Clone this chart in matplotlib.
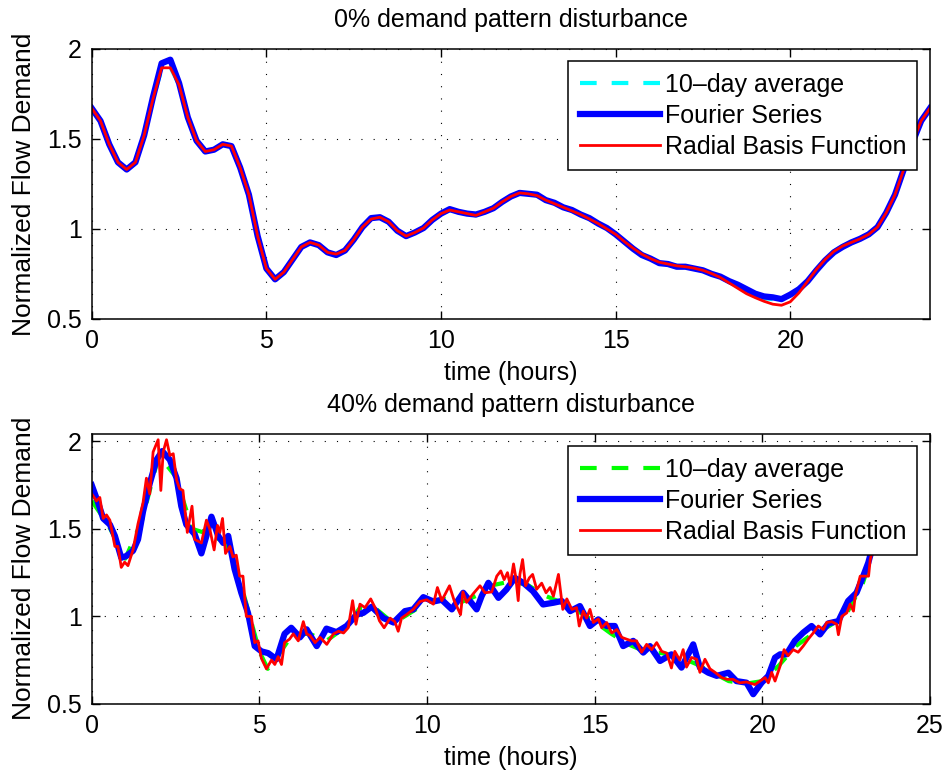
import matplotlib
matplotlib.use("Agg")
import matplotlib.pyplot as plt
import numpy as np

plt.rcParams["font.family"] = ["Liberation Sans", "DejaVu Sans"]
plt.rcParams["font.size"] = 18

# ---------------- 0% disturbance (top) ----------------
hours_0 = np.arange(0, 24.01, 0.25)
avg_0 = [1.67, 1.60, 1.47, 1.37, 1.33, 1.37, 1.52, 1.72, 1.89, 1.90, 1.80, 1.62,
         1.49, 1.43, 1.44, 1.47, 1.46, 1.34, 1.19, 0.96, 0.78, 0.72, 0.76, 0.83,
         0.90, 0.925, 0.91, 0.87, 0.86, 0.88, 0.94, 1.01, 1.055, 1.065, 1.04, 0.99,
         0.96, 0.98, 1.005, 1.05, 1.085, 1.105, 1.095, 1.085, 1.075, 1.095, 1.115, 1.15,
         1.18, 1.20, 1.195, 1.185, 1.16, 1.14, 1.12, 1.10, 1.08, 1.055, 1.03, 1.00,
         0.97, 0.93, 0.893, 0.86, 0.835, 0.815, 0.805, 0.795, 0.79, 0.782, 0.77, 0.752,
         0.73, 0.705, 0.68, 0.655, 0.63, 0.615, 0.61, 0.605, 0.63, 0.67, 0.715, 0.775,
         0.83, 0.875, 0.905, 0.925, 0.945, 0.97, 1.01, 1.09, 1.19, 1.33, 1.48, 1.60, 1.67]
fourier_0 = [1.67, 1.60, 1.47, 1.37, 1.33, 1.37, 1.52, 1.73, 1.92, 1.94, 1.81, 1.62,
             1.49, 1.43, 1.44, 1.47, 1.46, 1.34, 1.19, 0.96, 0.78, 0.72, 0.76, 0.83,
             0.90, 0.925, 0.91, 0.87, 0.855, 0.88, 0.94, 1.01, 1.06, 1.065, 1.04, 0.99,
             0.96, 0.98, 1.005, 1.05, 1.085, 1.11, 1.095, 1.085, 1.08, 1.095, 1.115, 1.15,
             1.18, 1.20, 1.195, 1.19, 1.16, 1.145, 1.12, 1.105, 1.08, 1.06, 1.03, 1.005,
             0.97, 0.93, 0.89, 0.855, 0.835, 0.81, 0.805, 0.79, 0.79, 0.78, 0.77, 0.75,
             0.735, 0.71, 0.69, 0.665, 0.64, 0.625, 0.62, 0.61, 0.635, 0.665, 0.71, 0.77,
             0.825, 0.87, 0.90, 0.925, 0.945, 0.97, 1.01, 1.09, 1.19, 1.33, 1.48, 1.60, 1.67]
rbf_0 = [1.67, 1.60, 1.47, 1.37, 1.33, 1.37, 1.52, 1.72, 1.895, 1.895, 1.80, 1.62,
         1.49, 1.43, 1.44, 1.47, 1.46, 1.34, 1.19, 0.96, 0.78, 0.72, 0.76, 0.83,
         0.90, 0.925, 0.91, 0.87, 0.86, 0.88, 0.94, 1.01, 1.055, 1.065, 1.04, 0.99,
         0.96, 0.98, 1.005, 1.05, 1.085, 1.105, 1.095, 1.085, 1.075, 1.095, 1.115, 1.15,
         1.18, 1.20, 1.195, 1.185, 1.16, 1.14, 1.12, 1.10, 1.08, 1.055, 1.03, 1.00,
         0.97, 0.93, 0.893, 0.86, 0.835, 0.815, 0.805, 0.795, 0.79, 0.782, 0.77, 0.752,
         0.73, 0.70, 0.67, 0.64, 0.618, 0.598, 0.582, 0.576, 0.595, 0.645, 0.71, 0.775,
         0.83, 0.875, 0.905, 0.925, 0.945, 0.97, 1.01, 1.09, 1.19, 1.33, 1.48, 1.60, 1.67]

# ---------------- 40% disturbance (bottom) ----------------
avg_40_t = [0, 0.5, 1.0, 1.5, 2.0, 2.5, 3.0, 3.5, 4.0, 4.5, 5.0, 5.25, 5.5, 6.0,
            6.5, 7.0, 7.5, 7.75, 8.0, 8.5, 9.0, 9.5, 10.0, 10.5, 11.0, 11.5, 12.0,
            12.5, 13.0, 13.5, 14.0, 14.5, 15.0, 15.5, 16.0, 16.5, 17.0, 17.5, 18.0,
            18.5, 19.0, 19.5, 20.0, 20.5, 21.0, 21.5, 22.0, 22.5, 23.0, 23.5, 24.0]
avg_40_v = [1.66, 1.52, 1.33, 1.55, 1.92, 1.80, 1.50, 1.47, 1.42, 1.15, 0.80, 0.70,
            0.76, 0.90, 0.90, 0.86, 0.93, 0.98, 1.05, 1.04, 0.96, 1.02, 1.08, 1.10,
            1.08, 1.12, 1.18, 1.20, 1.18, 1.12, 1.08, 1.03, 0.97, 0.90, 0.84, 0.80,
            0.79, 0.77, 0.73, 0.68, 0.63, 0.615, 0.63, 0.72, 0.83, 0.90, 0.945, 1.01,
            1.19, 1.48, 1.67]

fourier_40_t = [0.00, 0.19, 0.34, 0.54, 0.69, 0.88, 1.03, 1.23, 1.38, 1.53, 1.73, 1.93,
                2.10, 2.33, 2.53, 2.67, 2.82, 3.07, 3.27, 3.42, 3.57, 3.77, 3.92, 4.07,
                4.26, 4.46, 4.66, 4.86, 5.06, 5.26, 5.51, 5.75, 5.95, 6.21, 6.41, 6.71,
                7.00, 7.30, 7.60, 7.90, 8.10, 8.35, 8.70, 9.00, 9.34, 9.59, 9.89, 10.19,
                10.44, 10.74, 11.08, 11.28, 11.48, 11.63, 11.83, 12.13, 12.37, 12.62,
                12.87, 13.16, 13.46, 13.77, 14.02, 14.27, 14.56, 14.86, 15.11, 15.36,
                15.60, 15.85, 16.15, 16.45, 16.65, 16.95, 17.29, 17.59, 17.94, 18.14,
                18.39, 18.64, 18.99, 19.23, 19.53, 19.73, 19.98, 20.18, 20.38, 20.53,
                20.72, 20.97, 21.22, 21.47, 21.72, 21.97, 22.27, 22.56, 22.81, 23.01,
                23.16, 23.31, 23.60, 24.00]
fourier_40_v = [1.75, 1.65, 1.56, 1.525, 1.46, 1.335, 1.345, 1.375, 1.44, 1.60, 1.76, 1.895,
                1.945, 1.895, 1.79, 1.63, 1.525, 1.47, 1.36, 1.46, 1.57, 1.46, 1.42, 1.46,
                1.27, 1.135, 1.02, 0.83, 0.80, 0.79, 0.755, 0.90, 0.935, 0.88, 0.926, 0.83,
                0.93, 0.91, 0.945, 1.01, 1.02, 1.055, 0.99, 0.965, 1.03, 1.04, 1.11, 1.085,
                1.095, 1.04, 1.135, 1.088, 1.04, 1.116, 1.192, 1.106, 1.154, 1.22,
                1.192, 1.144, 1.068, 1.078, 1.088, 1.03, 1.059, 0.945, 0.983, 0.945,
                0.945, 0.83, 0.86, 0.793, 0.83, 0.745, 0.783, 0.707, 0.84, 0.707,
                0.678, 0.66, 0.678, 0.63, 0.621, 0.555, 0.621, 0.66, 0.764, 0.783,
                0.783, 0.86, 0.907, 0.945, 0.897, 0.96, 0.973, 1.088, 1.135, 1.23,
                1.306, 1.41, 1.58, 1.75]

rbf_40_t = [0.00, 0.14, 0.24, 0.34, 0.44, 0.54, 0.69, 0.78, 0.88, 0.98, 1.08, 1.23,
            1.38, 1.53, 1.63, 1.73, 1.83, 1.98, 2.06, 2.13, 2.23, 2.33, 2.43, 2.53,
            2.62, 2.72, 2.85, 2.99, 3.07, 3.27, 3.42, 3.52, 3.65, 3.75, 3.82, 3.90,
            3.99, 4.12, 4.21, 4.31, 4.41, 4.51, 4.61, 4.76, 4.86, 4.96, 5.06, 5.21,
            5.36, 5.46, 5.56, 5.66, 5.75, 5.90, 6.01, 6.16, 6.31, 6.41, 6.51, 6.66,
            6.81, 7.01, 7.21, 7.36, 7.51, 7.65, 7.78, 7.88, 8.00, 8.15, 8.32, 8.45,
            8.58, 8.72, 8.90, 9.04, 9.14, 9.24, 9.39, 9.59, 9.79, 9.99, 10.19, 10.31,
            10.44, 10.67, 10.81, 11.00, 11.07, 11.18, 11.38, 11.58, 11.73, 11.93,
            12.08, 12.20, 12.30, 12.40, 12.48, 12.58, 12.65, 12.72, 12.77, 12.85,
            12.94, 13.05, 13.15, 13.27, 13.42, 13.55, 13.67, 13.77, 13.92, 14.05,
            14.17, 14.32, 14.46, 14.54, 14.66, 14.76, 14.86, 14.96, 15.11, 15.21,
            15.36, 15.51, 15.66, 15.81, 15.95, 16.10, 16.25, 16.40, 16.55, 16.70,
            16.85, 17.00, 17.15, 17.29, 17.39, 17.54, 17.64, 17.74, 17.89, 18.04,
            18.14, 18.29, 18.44, 18.59, 18.79, 18.94, 19.13, 19.33, 19.53, 19.78,
            19.93, 20.08, 20.18, 20.28, 20.38, 20.53, 20.65, 20.77, 20.92, 21.07,
            21.22, 21.37, 21.52, 21.67, 21.82, 21.92, 22.07, 22.22, 22.27, 22.37,
            22.52, 22.62, 22.72, 22.77, 22.92, 23.07, 23.17, 23.22, 23.32, 23.50,
            23.75, 24.00]
rbf_40_v = [1.70, 1.66, 1.68, 1.56, 1.58, 1.55, 1.40, 1.40, 1.28, 1.31, 1.29, 1.38,
            1.53, 1.65, 1.79, 1.70, 1.94, 2.01, 1.72, 1.94, 2.01, 1.92, 1.93, 1.78,
            1.73, 1.72, 1.48, 1.63, 1.44, 1.42, 1.55, 1.50, 1.38, 1.52, 1.48, 1.56,
            1.36, 1.40, 1.34, 1.35, 1.23, 1.23, 1.00, 1.00, 0.85, 0.86, 0.76, 0.70,
            0.75, 0.725, 0.77, 0.725, 0.85, 0.87, 0.90, 0.86, 0.97, 0.90, 0.89, 0.85,
            0.88, 0.84, 0.90, 0.915, 0.905, 0.935, 1.09, 0.955, 1.07, 1.05, 1.10, 1.05,
            0.975, 0.935, 0.99, 0.97, 0.915, 0.99, 1.01, 1.04, 1.085, 1.095, 1.07, 1.165,
            1.09, 1.175, 1.09, 1.01, 1.14, 1.08, 1.13, 1.175, 1.135, 1.14,
            1.23, 1.26, 1.21, 1.25, 1.18, 1.30, 1.22, 1.09, 1.24, 1.325,
            1.175, 1.22, 1.24, 1.155, 1.19, 1.135, 1.165, 1.115, 1.24, 1.04,
            1.10, 1.04, 1.05, 0.945, 1.03, 0.99, 1.04, 0.965, 0.985, 0.935,
            0.965, 0.905, 0.925, 0.88, 0.87, 0.86, 0.86, 0.795, 0.84, 0.81,
            0.85, 0.80, 0.79, 0.705, 0.80, 0.75, 0.81, 0.71, 0.765, 0.755,
            0.68, 0.755, 0.70, 0.68, 0.65, 0.64, 0.64, 0.62, 0.625, 0.61,
            0.63, 0.65, 0.62, 0.68, 0.63, 0.715, 0.81, 0.775, 0.81, 0.795,
            0.83, 0.87, 0.905, 0.945, 0.925, 0.965, 0.97, 0.955, 0.895, 1.00,
            1.02, 1.07, 1.03, 1.115, 1.23, 1.23, 1.23, 1.325, 1.40, 1.50,
            1.62, 1.69]

LABELS = ["10\u2013day average", "Fourier Series", "Radial Basis Function"]


def style_axes(ax, xmax, ymax, xticks):
    ax.set_xlim(0, xmax)
    ax.set_ylim(0.5, ymax)
    ax.set_xticks(xticks)
    ax.set_yticks([0.5, 1, 1.5, 2])
    ax.set_yticklabels(["0.5", "1", "1.5", "2"])
    ax.tick_params(direction="in", top=True, right=True, length=6, width=1, pad=7)
    ax.grid(True, color="black", linestyle=(0, (1, 10)), linewidth=0.8)
    for sp in ax.spines.values():
        sp.set_linewidth(1.1)
    ax.set_xlabel("time (hours)", labelpad=6)
    ax.set_ylabel("Normalized Flow Demand", fontsize=19, labelpad=8)
    leg = ax.legend(loc="upper right", fancybox=False, framealpha=1, edgecolor="black",
                    borderpad=0.45, labelspacing=0.28, handlelength=3.2,
                    handletextpad=0.2, borderaxespad=0.5)
    leg.get_frame().set_linewidth(1.1)


fig = plt.figure(figsize=(9.46, 7.76), dpi=100)
ax1 = fig.add_axes([0.097, 0.589, 0.886, 0.348])
ax2 = fig.add_axes([0.097, 0.093, 0.886, 0.348])

ax1.plot(hours_0, avg_0, color="cyan", linewidth=3, dashes=(4, 3.6), label=LABELS[0])
ax1.plot(hours_0, fourier_0, color="blue", linewidth=4.5, label=LABELS[1])
ax1.plot(hours_0, rbf_0, color="red", linewidth=2, label=LABELS[2])
ax1.set_title("0% demand pattern disturbance", fontsize=18, pad=16)
style_axes(ax1, 24, 2, [0, 5, 10, 15, 20])

ax2.plot(avg_40_t, avg_40_v, color="#00ff00", linewidth=3, dashes=(4, 3.6), label=LABELS[0])
ax2.plot(fourier_40_t, fourier_40_v, color="blue", linewidth=4.5, label=LABELS[1])
ax2.plot(rbf_40_t, rbf_40_v, color="red", linewidth=2, label=LABELS[2])
ax2.set_title("40% demand pattern disturbance", fontsize=18, pad=16)
style_axes(ax2, 25, 2.044, [0, 5, 10, 15, 20, 25])

fig.savefig("out.png", dpi=100)
